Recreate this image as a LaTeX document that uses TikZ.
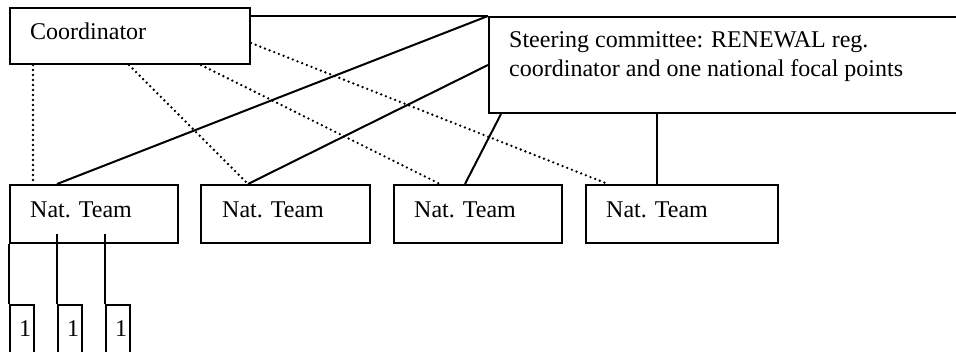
\documentclass[tikz,border=0pt]{standalone}
\usepackage{fontspec}
\setmainfont{Liberation Serif}
\usetikzlibrary{calc}
\tikzset{
  box/.style={draw=black, line width=2pt, rectangle, inner sep=0pt, anchor=north west},
  txt/.style={inner sep=0pt, anchor=base west, font=\fontsize{24}{28}\selectfont},
  solidline/.style={draw=black, line width=2pt},
  dotline/.style={draw=black, line width=2.6pt, line cap=round, dash pattern=on 0pt off 5pt},
}
\begin{document}
\begin{tikzpicture}[x=1pt,y=-1pt]
\useasboundingbox (0,0) rectangle (956,352);
\clip (0,0) rectangle (956,352);
% boxes
\node[box, minimum width=240pt, minimum height=56pt] (coord) at (9,7) {};
\node[box, minimum width=520pt, minimum height=96pt] (steer) at (488,16) {};
\node[box, minimum width=168pt, minimum height=58pt] (nt1) at (9,184) {};
\node[box, minimum width=169pt, minimum height=58pt] (nt2) at (200,184) {};
\node[box, minimum width=168pt, minimum height=58pt] (nt3) at (393,184) {};
\node[box, minimum width=192pt, minimum height=58pt] (nt4) at (585,184) {};
\node[box, minimum width=24pt, minimum height=70pt] (s1) at (9,304) {};
\node[box, minimum width=24pt, minimum height=70pt] (s2) at (57,304) {};
\node[box, minimum width=24pt, minimum height=70pt] (s3) at (105,304) {};
% texts
\node[txt] (tcoord) at (30,40) {Coordinator};
\node[txt] (tsteer1) at (509,48) {Steering committee: RENEWAL reg.};
\node[txt] (tsteer2) at (509,77) {coordinator and one national focal points};
\node[txt] (tnt1) at (30,218) {Nat. Team};
\node[txt] (tnt2) at (222,218) {Nat. Team};
\node[txt] (tnt3) at (414,218) {Nat. Team};
\node[txt] (tnt4) at (606,218) {Nat. Team};
\node[txt] (ts1) at (19,337) {1};
\node[txt] (ts2) at (67,337) {1};
\node[txt] (ts3) at (115,337) {1};
% solid connectors
\draw[solidline] ([yshift=-9pt]coord.north east) -- (steer.north west);
\draw[solidline] (steer.north west) -- ([xshift=48pt]nt1.north west);
\draw[solidline] ([yshift=-49pt]steer.north west) -- ([xshift=48pt]nt2.north west);
\draw[solidline] ([xshift=13pt]steer.south west) -- ([xshift=72pt]nt3.north west);
\draw[solidline] ([xshift=169pt]steer.south west) -- ([xshift=72pt]nt4.north west);
% dotted connectors
\draw[dotline] ([xshift=24pt]coord.south west) -- ([xshift=24pt]nt1.north west);
\draw[dotline] ([xshift=120pt]coord.south west) -- ([xshift=48pt]nt2.north west);
\draw[dotline] ([xshift=192pt]coord.south west) -- ([xshift=47pt]nt3.north west);
\draw[dotline] ([yshift=22pt]coord.south east) -- ([xshift=23pt]nt4.north west);
% to small boxes
\draw[solidline] (nt1.south west) -- (s1.north west);
\draw[solidline] ([xshift=48pt,yshift=10pt]nt1.south west) -- (s2.north west);
\draw[solidline] ([xshift=96pt,yshift=10pt]nt1.south west) -- (s3.north west);
\end{tikzpicture}
\end{document}
